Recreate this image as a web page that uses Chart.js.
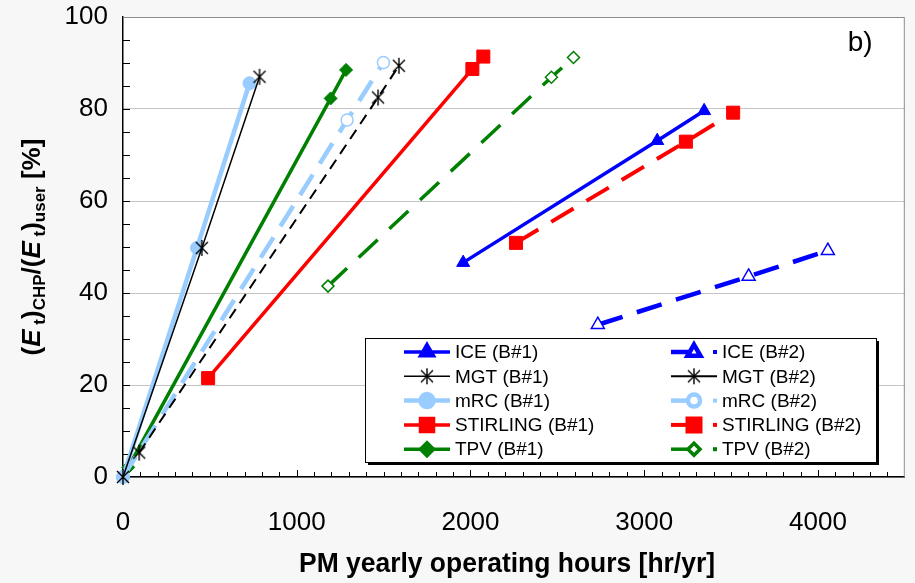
<!DOCTYPE html>
<html>
<head>
<meta charset="utf-8">
<script src="https://cdn.jsdelivr.net/npm/chart.js@4.4.0/dist/chart.umd.min.js"></script>
<style>
  html, body { margin: 0; padding: 0; background: #f7f7f7; }
  #wrap { width: 915px; height: 583px; }
</style>
</head>
<body>
<div id="wrap"><canvas id="chart"></canvas></div>
<script>
// series labels
const seriesNames = ['ICE (B#1)', 'ICE (B#2)', 'MGT (B#1)', 'MGT (B#2)', 'mRC (B#1)',
                     'mRC (B#2)', 'STIRLING (B#1)', 'STIRLING (B#2)', 'TPV (B#1)', 'TPV (B#2)'];

// PM yearly operating hours [hr/yr] and (Et)CHP/(Et)user [%]
const iceB1Hours = [1958, 3075, 3345];       const iceB1Share = [46.6, 73.1, 79.6];
const iceB2Hours = [2733, 3601, 4057];       const iceB2Share = [33.1, 43.6, 49.2];
const mgtB1Hours = [0, 454, 786];            const mgtB1Share = [0, 49.8, 87.0];
const mgtB2Hours = [93, 1468, 1588];         const mgtB2Share = [5.3, 82.5, 89.4];
const mrcB1Hours = [0, 426, 728];            const mrcB1Share = [0, 49.8, 85.6];
const mrcB2Hours = [0, 1290, 1499];          const mrcB2Share = [0, 77.6, 90.1];
const stirB1Hours = [490, 2011, 2074];       const stirB1Share = [21.5, 88.7, 91.4];
const stirB2Hours = [2262, 3240, 3512];      const stirB2Share = [50.9, 72.9, 79.2];
const tpvB1Hours = [30, 1195, 1284];         const tpvB1Share = [2.1, 82.3, 88.5];
const tpvB2Hours = [1180, 2466, 2593];       const tpvB2Share = [41.5, 86.9, 91.2];

// axes
const xTicks = [0, 1000, 2000, 3000, 4000];
const yTicks = [0, 20, 40, 60, 80, 100];
const xMin = 0, xMax = 4500, xMinor = 100;
const yMin = 0, yMax = 100, yMinor = 5;
const xTitle = 'PM yearly operating hours [hr/yr]';
const panelTag = 'b)';

const FONT = '"Liberation Sans", Arial, sans-serif';
const BLUE = '#0000ff', BLACK = '#000000', LBLUE = '#99ccff', RED = '#ff0000', GREEN = '#008000';

function asterisk(size) {
    const c = document.createElement('canvas');
    c.width = c.height = size;
    const g = c.getContext('2d');
    const m = size / 2, r = size / 2 - 1;
    g.strokeStyle = BLACK;
    g.lineWidth = 1.4;
    g.beginPath();
    g.moveTo(m - r * 0.75, m - r * 0.75); g.lineTo(m + r * 0.75, m + r * 0.75);
    g.moveTo(m + r * 0.75, m - r * 0.75); g.lineTo(m - r * 0.75, m + r * 0.75);
    g.moveTo(m, m - r); g.lineTo(m, m + r);
    g.stroke();
    return c;
}
const star = asterisk(18);

const styles = [
    { color: BLUE,  width: 3.5, dash: [],       point: 'triangle', r: 7.5, open: false },
    { color: BLUE,  width: 4.5, dash: [26, 15], point: 'triangle', r: 7.5, open: true },
    { color: BLACK, width: 1.5, dash: [],       point: star,       r: 8,   open: false },
    { color: BLACK, width: 2,   dash: [11, 7],  point: star,       r: 8,   open: false },
    { color: LBLUE, width: 4.5, dash: [],       point: 'circle',   r: 6.5, open: false },
    { color: LBLUE, width: 4.5, dash: [24, 13], point: 'circle',   r: 6,   open: true },
    { color: RED,   width: 3.5, dash: [],       point: 'rect',     r: 9.2, open: false },
    { color: RED,   width: 4,   dash: [26, 15], point: 'rect',     r: 9.2, open: false },
    { color: GREEN, width: 3.5, dash: [],       point: 'rectRot',  r: 6.5, open: false },
    { color: GREEN, width: 3.5, dash: [26, 16], point: 'rectRot',  r: 6,   open: true }
];

const hours = [iceB1Hours, iceB2Hours, mgtB1Hours, mgtB2Hours, mrcB1Hours,
               mrcB2Hours, stirB1Hours, stirB2Hours, tpvB1Hours, tpvB2Hours];
const shares = [iceB1Share, iceB2Share, mgtB1Share, mgtB2Share, mrcB1Share,
                mrcB2Share, stirB1Share, stirB2Share, tpvB1Share, tpvB2Share];

const datasets = seriesNames.map((name, i) => {
    const s = styles[i];
    return {
        label: name,
        data: hours[i].map((h, k) => ({ x: h, y: shares[i][k] })),
        showLine: true,
        borderColor: s.color,
        borderWidth: s.width,
        borderDash: s.dash,
        pointStyle: s.point,
        pointRadius: s.r,
        pointHoverRadius: s.r,
        pointBackgroundColor: s.open ? '#ffffff' : s.color,
        pointBorderColor: s.color,
        pointBorderWidth: s.open ? 1.5 : 1,
        clip: false
    };
});

const background = {
    id: 'background',
    beforeDraw(chart) {
        const { ctx, chartArea: a } = chart;
        ctx.save();
        ctx.fillStyle = '#f7f7f7';
        ctx.fillRect(0, 0, chart.width, chart.height);
        ctx.fillStyle = '#ffffff';
        ctx.fillRect(a.left, a.top, a.right - a.left, a.bottom - a.top);
        ctx.restore();
    }
};

const frameAndTicks = {
    id: 'frameAndTicks',
    beforeDatasetsDraw(chart) {
        const { ctx, chartArea: a, scales } = chart;
        ctx.save();
        ctx.strokeStyle = '#8c8c8c';
        ctx.lineWidth = 1;
        ctx.beginPath();
        ctx.moveTo(a.left, a.top + 0.5); ctx.lineTo(a.right - 0.5, a.top + 0.5);
        ctx.lineTo(a.right - 0.5, a.bottom);
        ctx.stroke();
        ctx.strokeStyle = BLACK;
        ctx.beginPath();
        for (let v = xMin + xMinor; v < xMax; v += xMinor) {
            const px = Math.round(scales.x.getPixelForValue(v)) + 0.5;
            const len = xTicks.includes(v) ? 7 : 5;
            ctx.moveTo(px, a.bottom); ctx.lineTo(px, a.bottom - len);
        }
        for (let v = yMin + yMinor; v < yMax; v += yMinor) {
            const py = Math.round(scales.y.getPixelForValue(v)) + 0.5;
            ctx.moveTo(a.left, py); ctx.lineTo(a.left + 7, py);
        }
        ctx.stroke();
        ctx.restore();
    }
};

function marker(ctx, s, x, y) {
    if (typeof s.point !== 'string') {
        ctx.drawImage(s.point, x - s.point.width / 2, y - s.point.height / 2);
        return;
    }
    ctx.fillStyle = s.open ? '#ffffff' : s.color;
    ctx.strokeStyle = s.color;
    ctx.setLineDash([]);
    Chart.helpers.drawPoint(ctx, { pointStyle: s.point, radius: s.r, borderWidth: s.open ? 1.5 : 1, rotation: 0 }, x, y);
}

const boxLegend = {
    id: 'boxLegend',
    afterDraw(chart) {
        const ctx = chart.ctx;
        const bx = 365, by = 338, bw = 511, bh = 124;
        ctx.save();
        ctx.fillStyle = BLACK;
        ctx.fillRect(bx + 3, by + 3, bw, bh);
        ctx.fillStyle = '#ffffff';
        ctx.fillRect(bx, by, bw, bh);
        ctx.strokeStyle = BLACK;
        ctx.lineWidth = 1;
        ctx.strokeRect(bx + 0.5, by + 0.5, bw, bh);

        ctx.font = '19px ' + FONT;
        ctx.textBaseline = 'middle';
        chart.data.datasets.forEach((ds, i) => {
            const s = styles[i];
            const col = i % 2, row = Math.floor(i / 2);
            const y = by + 14 + row * 24.3;
            const x0 = col === 0 ? 404 : 671;
            ctx.strokeStyle = s.color;
            ctx.lineWidth = s.width;
            ctx.setLineDash([]);
            ctx.beginPath();
            if (col === 0 || s.dash[0] < 15) {
                ctx.moveTo(x0, y); ctx.lineTo(x0 + 46, y);
                ctx.stroke();
                marker(ctx, s, x0 + 23, y);
            } else {
                ctx.moveTo(x0, y); ctx.lineTo(x0 + 20, y);
                ctx.stroke();
                marker(ctx, s, x0 + 23, y);
                ctx.fillStyle = s.color;
                ctx.fillRect(x0 + 42, y - 2, 4, 4);
            }
            ctx.fillStyle = BLACK;
            ctx.fillText(ds.label, x0 + 51, y + 1);
        });
        ctx.restore();
    }
};

const titles = {
    id: 'titles',
    afterDraw(chart) {
        const { ctx, chartArea: a } = chart;
        ctx.save();
        ctx.fillStyle = BLACK;
        // x title
        ctx.font = 'bold 27px ' + FONT;
        ctx.textAlign = 'center';
        ctx.textBaseline = 'middle';
        ctx.fillText(xTitle, 507, 565, 416);
        // panel tag
        ctx.font = '28px ' + FONT;
        ctx.textAlign = 'left';
        ctx.fillText(panelTag, a.right - 57, 43);
        // y title with italic E and subscripts
        const parts = [['(', 0, 0], ['E', 0, 1], [' t', 1, 0], [')', 0, 0], ['CHP', 1, 0],
                       ['/(', 0, 0], ['E', 0, 1], [' t', 1, 0], [')', 0, 0], ['user', 1, 0], [' [%]', 0, 0]];
        const fontOf = p => p[1] ? 'bold 17px ' + FONT : (p[2] ? 'italic bold 26px ' + FONT : 'bold 26px ' + FONT);
        let total = 0;
        parts.forEach(p => { ctx.font = fontOf(p); total += ctx.measureText(p[0]).width; });
        ctx.translate(31, (a.top + a.bottom) / 2);
        ctx.rotate(-Math.PI / 2);
        ctx.textAlign = 'left';
        ctx.textBaseline = 'alphabetic';
        let x = -total / 2;
        parts.forEach(p => {
            ctx.font = fontOf(p);
            ctx.fillText(p[0], x, p[1] ? 14 : 9);
            x += ctx.measureText(p[0]).width;
        });
        ctx.restore();
    }
};

new Chart(document.getElementById('chart'), {
    type: 'scatter',
    data: { datasets },
    options: {
        responsive: true,
        maintainAspectRatio: false,
        animation: false,
        events: [],
        layout: { padding: { top: 17, right: 4, left: 0, bottom: 0 } },
        plugins: { legend: { display: false }, tooltip: { enabled: false } },
        scales: {
            x: {
                type: 'linear', min: xMin, max: xMax,
                afterFit: s => { s.height = 106; s.paddingLeft = 0; s.paddingRight = 0; },
                afterBuildTicks: s => { s.ticks = xTicks.map(v => ({ value: v })); },
                ticks: { autoSkip: false, maxRotation: 0, padding: 22, color: BLACK,
                         callback: v => String(v),
                         font: { family: FONT, size: 26 } },
                grid: { display: false },
                border: { display: true, color: BLACK, width: 1.5 }
            },
            y: {
                type: 'linear', min: yMin, max: yMax,
                afterFit: s => { s.width = 123; s.paddingTop = 0; s.paddingBottom = 0; },
                afterBuildTicks: s => { s.ticks = yTicks.map(v => ({ value: v })); },
                ticks: { autoSkip: false, padding: 15, color: BLACK,
                         callback: v => String(v),
                         font: { family: FONT, size: 26 } },
                grid: { color: '#c4c4c4', lineWidth: 1, drawTicks: false },
                border: { display: true, color: BLACK, width: 1.5 }
            }
        }
    },
    plugins: [background, frameAndTicks, boxLegend, titles]
});
</script>
</body>
</html>
